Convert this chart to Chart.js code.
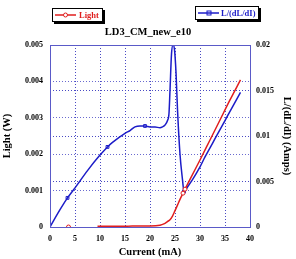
<!DOCTYPE html>
<html>
<head>
<meta charset="utf-8">
<script src="https://cdn.jsdelivr.net/npm/chart.js@4.4.1/dist/chart.umd.min.js"></script>
<style>
  html, body { margin: 0; padding: 0; background: #fff; }
  #wrap { width: 296px; height: 259px; position: relative; }
</style>
</head>
<body>
<div id="wrap"><canvas id="chart"></canvas></div>
<script>
// L/(dL/dI) curve, right axis (Amps)
var currentBlue = [0, 2, 3.5, 5, 7.5, 10, 11.5, 12.5, 15, 16, 17, 18, 19, 20, 21, 22, 22.5, 23, 23.5, 23.8, 24, 24.3, 24.6, 24.9, 25.2, 25.5, 26, 26.5, 26.8, 27.5, 28.5, 30, 31, 32, 33, 34, 35, 36, 37, 38.1];
var ldl = [0, 0.0019, 0.0032, 0.0043, 0.0062, 0.0079, 0.0088, 0.0093, 0.0103, 0.0106, 0.0110, 0.0111, 0.0111, 0.0110, 0.0110, 0.0109, 0.0110, 0.0112, 0.0117, 0.0125, 0.0150, 0.0190, 0.0200, 0.0195, 0.0170, 0.0129, 0.0080, 0.0052, 0.0039, 0.0044, 0.0052, 0.0066, 0.0077, 0.0087, 0.0097, 0.0107, 0.0117, 0.0127, 0.0137, 0.0148];

// Light output, left axis (W)
var currentRed = [3.7, 6, 9.5, 12, 15, 18, 20, 22, 23, 23.5, 24, 24.5, 25, 25.5, 26, 26.6, 27, 28, 30, 32, 34, 36, 38.1];
var light = [0, null, 0.00002, 0.00002, 0.00002, 0.00003, 0.00003, 0.00005, 0.0001, 0.00015, 0.0002, 0.0003, 0.00045, 0.0006, 0.00076, 0.00093, 0.00104, 0.00131, 0.00184, 0.00239, 0.00294, 0.00349, 0.00404];

var markerCurrents = [3.5, 3.7, 11.5, 19, 26.8, 34.5];

var xTicks = [0, 5, 10, 15, 20, 25, 30, 35, 40];

var RED = '#e01e1e';
var BLUE = '#1c1cc8';
var GRID = '#4a4ac4';
var SERIF = '"Liberation Serif", "Times New Roman", serif';

function pts(xs, ys) {
  var out = [];
  for (var i = 0; i < xs.length; i++) out.push({x: xs[i], y: ys[i]});
  return out;
}

function nearMarker(ctx) {
  var r = ctx.raw;
  if (!r) return 0;
  for (var i = 0; i < markerCurrents.length; i++) {
    if (Math.abs(markerCurrents[i] - r.x) < 0.3) return 2;
  }
  return 0;
}

function fmt(v) { return String(+v.toFixed(4)); }

var frameAndLegend = {
  id: 'frameAndLegend',
  afterDraw: function(chart) {
    var c = chart.ctx, a = chart.chartArea;
    c.save();
    c.strokeStyle = '#5a5ac8';
    c.lineWidth = 1;
    c.strokeRect(a.left + 0.5, a.top + 0.5, a.right - a.left, a.bottom - a.top);

    function box(x, y, w, h) {
      c.fillStyle = '#000';
      c.fillRect(x + 2, y + 2, w, h);
      c.fillStyle = '#fff';
      c.fillRect(x, y, w, h);
      c.strokeStyle = '#000';
      c.lineWidth = 1;
      c.strokeRect(x + 0.5, y + 0.5, w - 1, h - 1);
    }
    // Light legend
    box(52, 8, 51, 14);
    c.strokeStyle = RED; c.lineWidth = 1.5;
    c.beginPath(); c.moveTo(55, 15); c.lineTo(76, 15); c.stroke();
    c.lineWidth = 1;
    c.beginPath(); c.arc(65.5, 15, 2, 0, Math.PI * 2); c.fillStyle = '#fff'; c.fill(); c.stroke();
    c.fillStyle = RED;
    c.font = 'bold 8.5px ' + SERIF;
    c.textBaseline = 'middle';
    c.fillText('Light', 79, 15.5);

    // L/(dL/dI) legend
    box(195, 6, 64, 14);
    c.strokeStyle = BLUE; c.lineWidth = 1.5;
    c.beginPath(); c.moveTo(198, 13); c.lineTo(219, 13); c.stroke();
    c.lineWidth = 1;
    c.strokeRect(207, 11, 4, 4);
    c.fillStyle = BLUE;
    c.fillText('L/(dL/dI)', 221, 13.5);
    c.restore();
  }
};

var axisFont = {family: SERIF, size: 8, weight: 'bold'};
var titleFont = {family: SERIF, size: 10.5, weight: 'bold'};

new Chart(document.getElementById('chart'), {
  type: 'line',
  data: {
    datasets: [
      {
        label: 'Light',
        data: pts(currentRed, light),
        yAxisID: 'y',
        borderColor: RED,
        backgroundColor: '#fff',
        borderWidth: 1.5,
        pointRadius: nearMarker,
        pointBorderWidth: 1,
        pointBorderColor: RED,
        pointStyle: 'circle',
        spanGaps: false,
        cubicInterpolationMode: 'monotone'
      },
      {
        label: 'L/(dL/dI)',
        data: pts(currentBlue, ldl),
        yAxisID: 'y2',
        borderColor: BLUE,
        backgroundColor: 'rgba(0,0,0,0)',
        borderWidth: 1.5,
        pointRadius: nearMarker,
        pointBorderWidth: 1,
        pointBorderColor: BLUE,
        pointStyle: 'rect',
        cubicInterpolationMode: 'monotone'
      }
    ]
  },
  options: {
    responsive: true,
    maintainAspectRatio: false,
    animation: false,
    layout: {padding: 0},
    plugins: {
      legend: {display: false},
      tooltip: {enabled: false},
      title: {
        display: true,
        text: 'LD3_CM_new_e10',
        color: '#000',
        font: {family: SERIF, size: 10.5, weight: 'bold', lineHeight: 1.2},
        padding: {top: 26, bottom: 6.4}
      }
    },
    scales: {
      x: {
        type: 'linear',
        min: 0, max: 40,
        afterFit: function(s) { s.height = 32; },
        afterBuildTicks: function(s) { s.ticks = xTicks.map(function(v) { return {value: v}; }); },
        ticks: {color: '#000', font: axisFont, padding: 7, maxRotation: 0},
        grid: {color: GRID, drawTicks: false, lineWidth: 1},
        border: {display: false, dash: [1, 2]},
        title: {display: true, text: 'Current (mA)', color: '#000', font: titleFont, padding: {top: 0, bottom: 0}}
      },
      y: {
        position: 'left',
        min: 0, max: 0.005,
        afterFit: function(s) { s.width = 50; },
        ticks: {stepSize: 0.001, color: '#000', font: axisFont, padding: 7, callback: fmt},
        grid: {color: '#6a6ad0', drawTicks: false, lineWidth: 1},
        border: {display: false, dash: [1, 2]},
        title: {display: true, text: 'Light (W)', color: '#000', font: titleFont, padding: {top: 1, bottom: 0}}
      },
      y2: {
        position: 'right',
        min: 0, max: 0.02,
        afterFit: function(s) { s.width = 46; },
        ticks: {stepSize: 0.005, color: '#000', font: axisFont, padding: 6, callback: fmt},
        grid: {color: GRID, drawTicks: false, lineWidth: 1},
        border: {display: false, dash: [1, 2]},
        title: {display: true, text: 'L/(dL/dI) (Amps)', color: '#000', font: titleFont, padding: {top: 3, bottom: 0}}
      }
    }
  },
  plugins: [frameAndLegend]
});
</script>
</body>
</html>
